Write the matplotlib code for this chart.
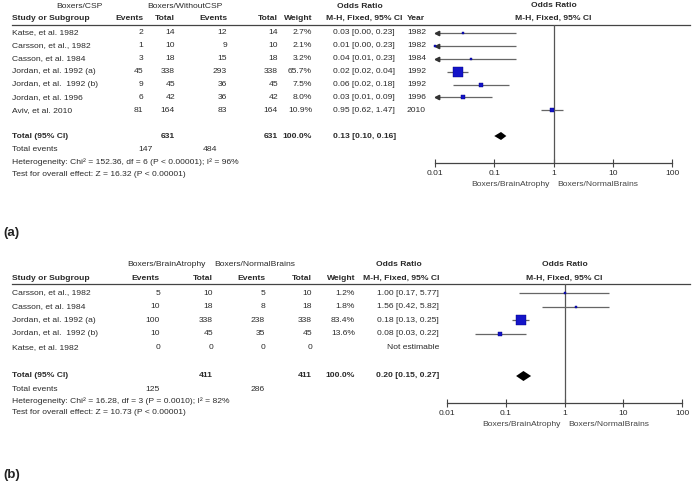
import matplotlib
matplotlib.use("Agg")
import matplotlib.pyplot as plt
from matplotlib import font_manager
from matplotlib.ticker import NullLocator
import numpy as np

# ---------------- panel (a): CSP ----------------
studies_a = ["Katse, et al. 1982", "Carsson, et al., 1982", "Casson, et al. 1984",
             "Jordan, et al. 1992 (a)", "Jordan, et al.  1992 (b)", "Jordan, et al. 1996",
             "Aviv, et al. 2010"]
ev1_a = [2, 1, 3, 45, 9, 6, 81]
tot1_a = [14, 10, 18, 338, 45, 42, 164]
ev2_a = [12, 9, 15, 293, 36, 36, 83]
tot2_a = [14, 10, 18, 338, 45, 42, 164]
weight_a = [2.7, 2.1, 3.2, 65.7, 7.5, 8.0, 10.9]
or_a = [0.03, 0.01, 0.04, 0.024, 0.06, 0.03, 0.95]
lo_a = [0.002, 0.0005, 0.008, 0.016, 0.02, 0.0095, 0.62]
hi_a = [0.23, 0.23, 0.23, 0.036, 0.18, 0.09, 1.47]
year_a = [1982, 1982, 1984, 1992, 1992, 1996, 2010]
total_a = dict(n1=631, n2=631, ev1=147, ev2=484, est=0.13, lo=0.10, hi=0.16)
het_a = "Heterogeneity: Chi\u00b2 = 152.36, df = 6 (P < 0.00001); I\u00b2 = 96%"
test_a = "Test for overall effect: Z = 16.32 (P < 0.00001)"

# ---------------- panel (b): brain atrophy ----------------
studies_b = ["Carsson, et al., 1982", "Casson, et al. 1984", "Jordan, et al. 1992 (a)",
             "Jordan, et al.  1992 (b)", "Katse, et al. 1982"]
ev1_b = [5, 10, 100, 10, 0]
tot1_b = [10, 18, 338, 45, 0]
ev2_b = [5, 8, 238, 35, 0]
tot2_b = [10, 18, 338, 45, 0]
weight_b = [1.2, 1.8, 83.4, 13.6, None]
or_b = [1.00, 1.56, 0.18, 0.08, None]
lo_b = [0.17, 0.42, 0.13, 0.03, None]
hi_b = [5.77, 5.82, 0.25, 0.22, None]
total_b = dict(n1=411, n2=411, ev1=125, ev2=286, est=0.20, lo=0.15, hi=0.27)
het_b = "Heterogeneity: Chi\u00b2 = 16.28, df = 3 (P = 0.0010); I\u00b2 = 82%"
test_b = "Test for overall effect: Z = 10.73 (P < 0.00001)"

ticks = [0.01, 0.1, 1, 10, 100]
tick_labels = ["0.01", "0.1", "1", "10", "100"]

# font: narrow arial look if available
installed = {f.name for f in font_manager.fontManager.ttflist}
if "Liberation Sans Narrow" in installed:
    FONT, FS = "Liberation Sans Narrow", 6.9
else:
    FONT, FS = "Liberation Sans", 6.1
plt.rcParams['font.family'] = [FONT, 'DejaVu Sans']

TXT = '#2a2a2a'
LINE = '#555555'
BLUE = '#1414c8'
W, H = 692, 494

fig = plt.figure(figsize=(W / 100, H / 100), dpi=100)
tab = fig.add_axes([0, 0, 1, 1])
tab.set_xlim(0, W)
tab.set_ylim(H, 0)
tab.axis('off')


def put(x, y, s, ha='left', bold=False, **kw):
    tab.text(x, y, s, ha=ha, va='center', fontsize=FS, color=TXT,
             fontweight='bold' if bold else 'normal', **kw)


def fmt_or(e, l, h):
    return f"{e:.2f} [{l:.2f}, {h:.2f}]"


def forest(x0, x1, y_top, y_axis, rows_y, est, lo, hi, wts, tot, tot_y, dh):
    ax = fig.add_axes([x0 / W, 1 - y_axis / H, (x1 - x0) / W, (y_axis - y_top) / H])
    ax.set_xscale('log')
    ax.set_xlim(0.01, 100)
    ax.set_ylim(y_axis, y_top)
    ax.patch.set_alpha(0)
    for s in ['top', 'right', 'left']:
        ax.spines[s].set_visible(False)
    ax.spines['bottom'].set_color('#444444')
    ax.spines['bottom'].set_linewidth(0.9)
    ax.set_yticks([])
    ax.set_xticks(ticks)
    ax.set_xticklabels(tick_labels)
    ax.xaxis.set_minor_locator(NullLocator())
    ax.tick_params(axis='x', direction='inout', length=6, width=0.8, colors='#444444',
                   labelsize=FS, labelcolor=TXT, pad=2)
    ax.axvline(1, color=LINE, lw=0.9)

    for y, e, l, h, w in zip(rows_y, est, lo, hi, wts):
        if e is None:
            continue
        ax.plot([max(l, 0.01), h], [y, y], color='#666666', lw=0.9, solid_capstyle='butt')
        if l <= 0.01:
            ax.plot([0.0108], [y], marker='<', ms=3.2, color='#333333', clip_on=False)
        side = max(1.15 * np.sqrt(w), 2.4) * 0.72
        ax.plot([e], [y], marker='s', ms=side, color=BLUE, mec='#000080', mew=0.3,
                linestyle='none', clip_on=False)

    ax.fill([tot['lo'], tot['est'], tot['hi'], tot['est']],
            [tot_y, tot_y - dh, tot_y, tot_y + dh], color='black', lw=0)

    ax.annotate("Boxers/BrainAtrophy", (1, y_axis + 21), xytext=(-3, 0),
                textcoords='offset points', ha='right', va='center', fontsize=FS,
                color='#444444', annotation_clip=False)
    ax.annotate("Boxers/NormalBrains", (1, y_axis + 21), xytext=(3, 0),
                textcoords='offset points', ha='left', va='center', fontsize=FS,
                color='#444444', annotation_clip=False)
    return ax


# ================= panel (a) =================
ya_rows = [33 + 12.9 * i for i in range(len(studies_a))]
put(79, 6, "Boxers/CSP", ha='center')
put(185, 6, "Boxers/WithoutCSP", ha='center')
put(360, 6, "Odds Ratio", ha='center', bold=True)
put(12, 18, "Study or Subgroup", bold=True)
put(143, 18, "Events", ha='right', bold=True)
put(175, 18, "Total", ha='right', bold=True)
put(227, 18, "Events", ha='right', bold=True)
put(278, 18, "Total", ha='right', bold=True)
put(312, 18, "Weight", ha='right', bold=True)
put(364, 18, "M-H, Fixed, 95% CI", ha='center', bold=True)
put(407, 18, "Year", bold=True)
tab.plot([12, 690], [25, 25], color='#444444', lw=0.9)

for i, y in enumerate(ya_rows):
    put(12, y, studies_a[i])
    put(143, y, str(ev1_a[i]), ha='right')
    put(175, y, str(tot1_a[i]), ha='right')
    put(227, y, str(ev2_a[i]), ha='right')
    put(278, y, str(tot2_a[i]), ha='right')
    put(312, y, f"{weight_a[i]:.1f}%", ha='right')
    put(333, y, fmt_or(or_a[i], lo_a[i], hi_a[i]))
    put(407, y, str(year_a[i]))

put(12, 136, "Total (95% CI)", bold=True)
put(175, 136, str(total_a['n1']), ha='right', bold=True)
put(278, 136, str(total_a['n2']), ha='right', bold=True)
put(312, 136, "100.0%", ha='right', bold=True)
put(333, 136, fmt_or(total_a['est'], total_a['lo'], total_a['hi']), bold=True)
put(12, 149, "Total events")
put(153, 149, str(total_a['ev1']), ha='right')
put(217, 149, str(total_a['ev2']), ha='right')
put(12, 162, het_a)
put(12, 174, test_a)

ax_a = forest(435, 672, 25, 163, ya_rows, or_a, lo_a, hi_a, weight_a, total_a, 136, 4)
ax_a.text(1, 6, "Odds Ratio", ha='center', va='center', fontsize=FS, color=TXT, fontweight='bold')
ax_a.text(1, 18, "M-H, Fixed, 95% CI", ha='center', va='center', fontsize=FS, color=TXT,
          fontweight='bold')

tab.text(3, 233, "(a)", ha='left', va='center', fontsize=9.5, fontweight='bold',
         color='#222222', family=['Liberation Sans', 'DejaVu Sans'])

# ================= panel (b) =================
yb_rows = [293 + 13.6 * i for i in range(len(studies_b))]
put(166, 264, "Boxers/BrainAtrophy", ha='center')
put(255, 264, "Boxers/NormalBrains", ha='center')
put(399, 264, "Odds Ratio", ha='center', bold=True)
put(12, 278, "Study or Subgroup", bold=True)
put(160, 278, "Events", ha='right', bold=True)
put(213, 278, "Total", ha='right', bold=True)
put(265, 278, "Events", ha='right', bold=True)
put(312, 278, "Total", ha='right', bold=True)
put(355, 278, "Weight", ha='right', bold=True)
put(401, 278, "M-H, Fixed, 95% CI", ha='center', bold=True)
tab.plot([12, 690], [284, 284], color='#444444', lw=0.9)

for i, y in enumerate(yb_rows):
    put(12, y, studies_b[i])
    put(160, y, str(ev1_b[i]), ha='right')
    put(213, y, str(tot1_b[i]), ha='right')
    put(265, y, str(ev2_b[i]), ha='right')
    put(312, y, str(tot2_b[i]), ha='right')
    if weight_b[i] is None:
        put(439, y, "Not estimable", ha='right')
    else:
        put(355, y, f"{weight_b[i]:.1f}%", ha='right')
        put(439, y, fmt_or(or_b[i], lo_b[i], hi_b[i]), ha='right')

put(12, 375, "Total (95% CI)", bold=True)
put(213, 375, str(total_b['n1']), ha='right', bold=True)
put(312, 375, str(total_b['n2']), ha='right', bold=True)
put(355, 375, "100.0%", ha='right', bold=True)
put(439, 375, fmt_or(total_b['est'], total_b['lo'], total_b['hi']), ha='right', bold=True)
put(12, 389, "Total events")
put(160, 389, str(total_b['ev1']), ha='right')
put(265, 389, str(total_b['ev2']), ha='right')
put(12, 401, het_b)
put(12, 412, test_b)

ax_b = forest(447, 682, 284, 403, yb_rows, or_b, lo_b, hi_b, weight_b, total_b, 376, 5)
ax_b.text(1, 264, "Odds Ratio", ha='center', va='center', fontsize=FS, color=TXT, fontweight='bold')
ax_b.text(1, 278, "M-H, Fixed, 95% CI", ha='center', va='center', fontsize=FS, color=TXT,
          fontweight='bold')

tab.text(3, 475, "(b)", ha='left', va='center', fontsize=9.5, fontweight='bold',
         color='#222222', family=['Liberation Sans', 'DejaVu Sans'])

fig.savefig("out.png", dpi=100)
